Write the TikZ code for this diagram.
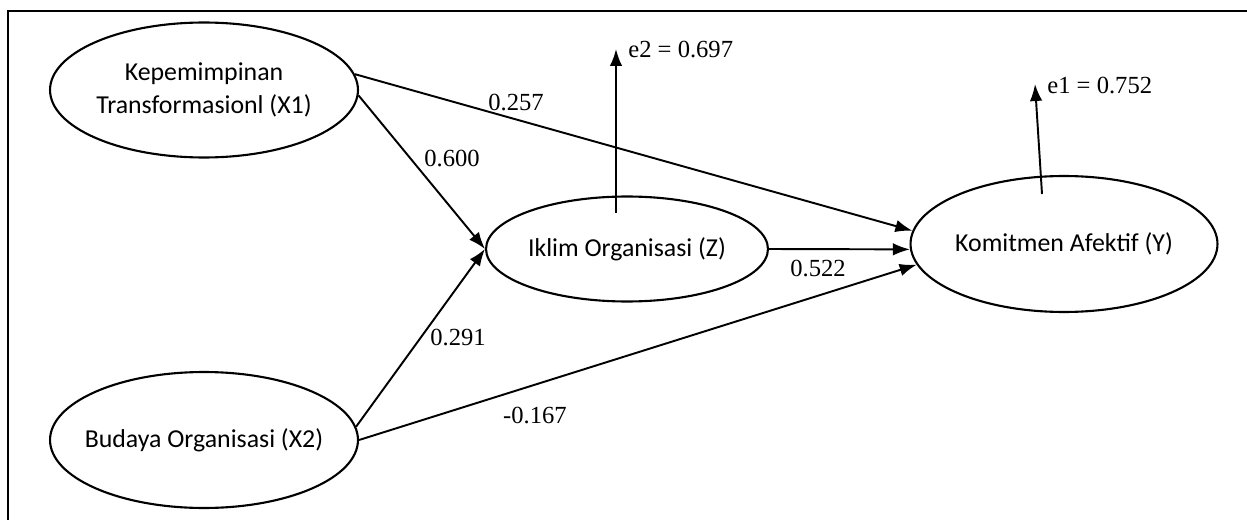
\documentclass[tikz,border=0pt]{standalone}
\usepackage{fontspec}
\setmainfont{Liberation Serif}
\newfontfamily\labelsans{Carlito}
\usetikzlibrary{shapes.geometric,arrows.meta}
\begin{document}
\begin{tikzpicture}[
  x=0.02cm,y=-0.02cm,
  line/.style={line width=1.2pt},
  link/.style={line width=1.1pt,-{Latex[length=0.34cm,width=0.25cm]}},
  latent/.style={ellipse,draw,line width=1.2pt,inner xsep=-0.6cm,inner ysep=0pt,align=center,
    font=\labelsans\fontsize{14.7}{18.7}\selectfont},
  coef/.style={inner sep=0pt,font=\fontsize{14}{16}\selectfont}]
  \useasboundingbox (0,0) rectangle (1247,520);
  \draw[line] (8,520) -- (8,11) -- (1247,11);
  \node[latent,minimum width=6.16cm,minimum height=2.7cm] (x1) at (204,90) {Kepemimpinan\\Transformasionl (X1)};
  \node[latent,minimum width=6.16cm,minimum height=2.72cm] (x2) at (204,440) {Budaya Organisasi (X2)};
  \node[latent,minimum width=5.64cm,minimum height=2.1cm] (z) at (627,249) {Iklim Organisasi (Z)};
  \node[latent,minimum width=6.14cm,minimum height=2.72cm] (y) at (1064,244) {Komitmen Afektif (Y)};
  \draw[link] (x1.6) -- (y.175);
  \draw[link] (x1.-2) -- (z.west);
  \draw[link] (x2.5) -- (z.west);
  \draw[link] (x2.east) -- (y.188);
  \draw[link] (z.east) -- (y.182);
  \coordinate (e2foot) at (616,213);
  \coordinate (e2head) at (616,49);
  \coordinate (e1foot) at (1042,194);
  \coordinate (e1head) at (1035,84);
  \draw[link] (e2foot) -- (e2head);
  \draw[link] (e1foot) -- (e1head);
  \node[coef,anchor=west] (e2) at (628,49) {e2 = 0.697};
  \node[coef,anchor=west] (e1) at (1047,85) {e1 = 0.752};
  \node[coef] (b1) at (516,102) {0.257};
  \node[coef] (b2) at (452,158) {0.600};
  \node[coef] (b3) at (458,337) {0.291};
  \node[coef] (b4) at (818,268) {0.522};
  \node[coef] (b5) at (535,415) {-0.167};
\end{tikzpicture}
\end{document}
